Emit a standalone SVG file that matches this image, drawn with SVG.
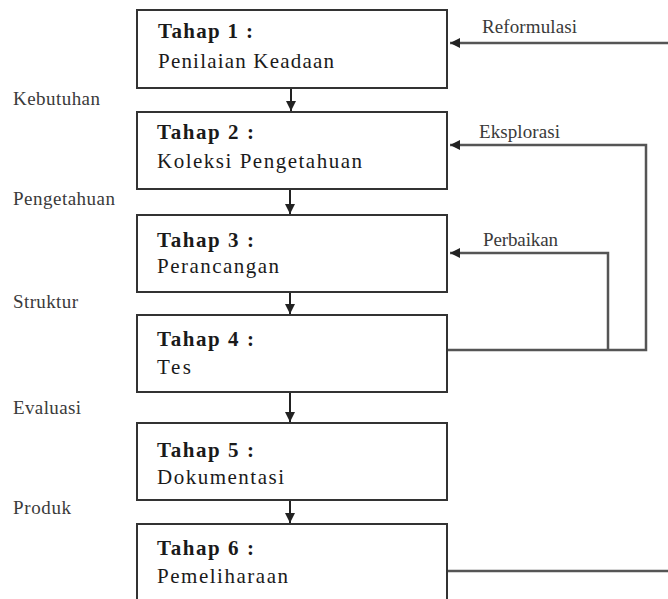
<svg xmlns="http://www.w3.org/2000/svg" width="668" height="599" viewBox="0 0 668 599">
<style>
.box{fill:#fff;stroke:#333;stroke-width:2}
.t{font-family:'Liberation Serif','Times New Roman',serif;font-size:21px;fill:#1a1a1a}
.tb{font-weight:bold}
.lbl{font-family:'Liberation Serif','Times New Roman',serif;font-size:19px;fill:#3a3a3a}
.c{fill:none;stroke:#555;stroke-width:2.5}
.d{fill:none;stroke:#222;stroke-width:2}
</style>
<defs>
<marker id="ah" viewBox="0 0 10 10" refX="10" refY="5" markerWidth="10" markerHeight="10" markerUnits="userSpaceOnUse" orient="auto">
<path d="M0,0 L10,5 L0,10 Z" fill="#222"/>
</marker>
</defs>
<rect width="668" height="599" fill="#fff"/>
<g id="connectors">
<line class="d" x1="291" y1="89" x2="291" y2="111" marker-end="url(#ah)"/>
<line class="d" x1="290" y1="190" x2="290" y2="214" marker-end="url(#ah)"/>
<line class="d" x1="290" y1="293" x2="290" y2="314" marker-end="url(#ah)"/>
<line class="d" x1="290" y1="393" x2="290" y2="422" marker-end="url(#ah)"/>
<line class="d" x1="290" y1="501" x2="290" y2="523" marker-end="url(#ah)"/>
<line class="c" x1="668" y1="43" x2="450" y2="43" marker-end="url(#ah)"/>
<polyline class="c" points="448,350 646,350 646,145 450,145" marker-end="url(#ah)"/>
<polyline class="c" points="608,350 608,253 450,253" marker-end="url(#ah)"/>
<line class="c" x1="448" y1="571" x2="668" y2="571"/>
</g>
<g id="node1">
<rect class="box" x="137" y="10" width="310" height="78"/>
<text class="t tb" x="158" y="38" textLength="95" lengthAdjust="spacing">Tahap 1 :</text>
<text class="t" x="158" y="68" textLength="176" lengthAdjust="spacing">Penilaian Keadaan</text>
</g>
<g id="node2">
<rect class="box" x="137" y="112" width="310" height="77"/>
<text class="t tb" x="157" y="139" textLength="97" lengthAdjust="spacing">Tahap 2 :</text>
<text class="t" x="157" y="168" textLength="205" lengthAdjust="spacing">Koleksi Pengetahuan</text>
</g>
<g id="node3">
<rect class="box" x="137" y="215" width="310" height="77"/>
<text class="t tb" x="157" y="247" textLength="97" lengthAdjust="spacing">Tahap 3 :</text>
<text class="t" x="157" y="273" textLength="122" lengthAdjust="spacing">Perancangan</text>
</g>
<g id="node4">
<rect class="box" x="137" y="315" width="310" height="77"/>
<text class="t tb" x="157" y="346" textLength="97" lengthAdjust="spacing">Tahap 4 :</text>
<text class="t" x="157" y="374" textLength="34" lengthAdjust="spacing">Tes</text>
</g>
<g id="node5">
<rect class="box" x="137" y="423" width="310" height="77"/>
<text class="t tb" x="157" y="457" textLength="97" lengthAdjust="spacing">Tahap 5 :</text>
<text class="t" x="157" y="484" textLength="127" lengthAdjust="spacing">Dokumentasi</text>
</g>
<g id="node6">
<rect class="box" x="137" y="524" width="310" height="100"/>
<text class="t tb" x="157" y="555" textLength="97" lengthAdjust="spacing">Tahap 6 :</text>
<text class="t" x="157" y="583" textLength="131" lengthAdjust="spacing">Pemeliharaan</text>
</g>
<g id="labels">
<text class="lbl" x="482" y="33" textLength="95" lengthAdjust="spacing">Reformulasi</text>
<text class="lbl" x="479" y="138" textLength="81" lengthAdjust="spacing">Eksplorasi</text>
<text class="lbl" x="483" y="246" textLength="75" lengthAdjust="spacing">Perbaikan</text>
<text class="lbl" x="13" y="105" textLength="87" lengthAdjust="spacing">Kebutuhan</text>
<text class="lbl" x="13" y="205" textLength="102" lengthAdjust="spacing">Pengetahuan</text>
<text class="lbl" x="13" y="308" textLength="65" lengthAdjust="spacing">Struktur</text>
<text class="lbl" x="13" y="414" textLength="68" lengthAdjust="spacing">Evaluasi</text>
<text class="lbl" x="13" y="514" textLength="58" lengthAdjust="spacing">Produk</text>
</g>
</svg>
